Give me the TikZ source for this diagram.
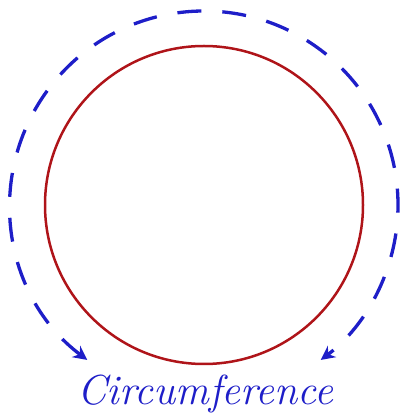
\documentclass[tikz,border=0pt]{standalone}
\usetikzlibrary{arrows.meta,calc}
\definecolor{circred}{RGB}{175,20,25}
\definecolor{arcblue}{RGB}{30,30,200}
\begin{document}
\begin{tikzpicture}[x=1pt,y=1pt,
  circ/.style={draw=circred,line width=2.5pt},
  perim/.style={draw=arcblue,line width=3.3pt,dash pattern=on 24pt off 21pt,
     {Stealth[length=14pt,width=14pt]}-{Stealth[length=14pt,width=14pt]}},
  lbl/.style={text=arcblue,font=\fontsize{42}{46}\selectfont\itshape,anchor=base,inner sep=0pt}]
\useasboundingbox (0,0) rectangle (401,420);
\coordinate (c) at (204,215);
\node[circ,circle,minimum size=318pt,inner sep=0pt] (red) at (c) {};
\draw[perim] ($(c)+(233:194)$) arc[start angle=233,end angle=-53,radius=194];
\node[lbl] (txt) at (205.5,15) {Circumference};
\end{tikzpicture}
\end{document}
